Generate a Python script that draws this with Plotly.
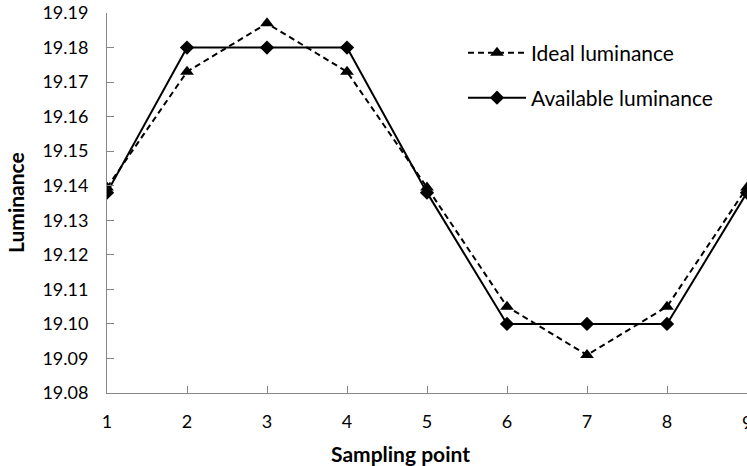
import plotly.graph_objects as go

sampling_points = [1, 2, 3, 4, 5, 6, 7, 8, 9]
ideal_luminance = [19.1395, 19.173, 19.187, 19.173, 19.1395, 19.105, 19.091, 19.105, 19.1395]
available_luminance = [19.138, 19.18, 19.18, 19.18, 19.138, 19.10, 19.10, 19.10, 19.138]
y_ticks = [19.08, 19.09, 19.10, 19.11, 19.12, 19.13, 19.14, 19.15, 19.16, 19.17, 19.18, 19.19]

FONT = "Lato, Carlito, Calibri, sans-serif"

fig = go.Figure()
fig.add_trace(go.Scatter(
    x=sampling_points, y=ideal_luminance, name="Ideal luminance",
    mode="lines+markers",
    line=dict(color="black", width=2, dash="6px,4px"),
    marker=dict(symbol="triangle-up", size=12, color="black"),
    legend="legend",
))
fig.add_trace(go.Scatter(
    x=sampling_points, y=available_luminance, name="Available luminance",
    mode="lines+markers",
    line=dict(color="black", width=2),
    marker=dict(symbol="diamond", size=11, color="black"),
    legend="legend2",
))

axis_common = dict(
    showgrid=False, zeroline=False, showline=True, linecolor="#868686", linewidth=1,
    ticks="inside", ticklen=7, tickcolor="#868686", tickwidth=1,
    tickfont=dict(family=FONT, size=18, color="black"),
)

fig.update_layout(
    width=747, height=466,
    margin=dict(l=107, r=0, t=13, b=73),
    paper_bgcolor="white", plot_bgcolor="white",
    font=dict(family=FONT, size=18, color="black"),
    xaxis=dict(range=[1, 9], tickmode="array", tickvals=sampling_points[:-1], ticklabelstandoff=12, **axis_common),
    yaxis=dict(range=[19.08, 19.19], tickmode="array", tickvals=y_ticks,
               ticktext=[f"{v:.2f}" for v in y_ticks], ticklabelstandoff=14, **axis_common),
    legend=dict(x=(463-107)/640, y=1-(53-13)/380, xanchor="left", yanchor="middle", bgcolor="rgba(0,0,0,0)",
                itemwidth=58, font=dict(family=FONT, size=21)),
    legend2=dict(x=(463-107)/640, y=1-(98-13)/380, xanchor="left", yanchor="middle", bgcolor="rgba(0,0,0,0)",
                 itemwidth=58, font=dict(family=FONT, size=21)),
    showlegend=True,
    annotations=[
        dict(text=str(sampling_points[-1]), xref="x", yref="paper", x=sampling_points[-1], y=-(422-393)/380,
             xanchor="center", yanchor="middle", showarrow=False, font=dict(family=FONT, size=18)),
        dict(text="<b>Sampling point</b>", xref="paper", yref="paper", x=(400-107)/640, y=-(453-393)/380,
             xanchor="center", yanchor="middle", showarrow=False, font=dict(family=FONT, size=21)),
        dict(text="<b>Luminance</b>", xref="paper", yref="paper", x=-(107-15)/640, y=0.5,
             xanchor="center", yanchor="middle", textangle=-90, showarrow=False, font=dict(family=FONT, size=21)),
    ],
)

fig.write_html("out.html")
